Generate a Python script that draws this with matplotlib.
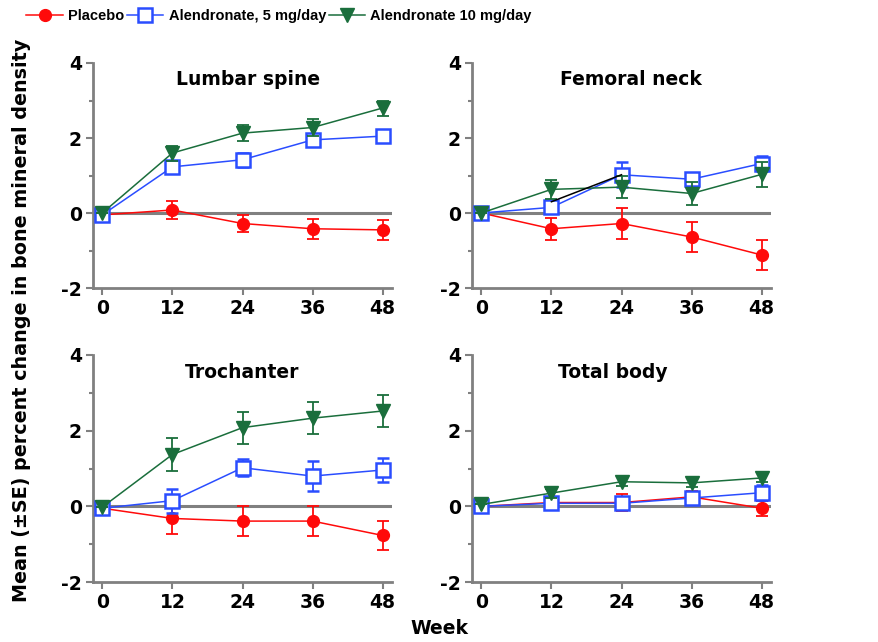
import matplotlib.pyplot as plt
from matplotlib.lines import Line2D

weeks = [0, 12, 24, 36, 48]
panels = ["Lumbar spine", "Femoral neck", "Trochanter", "Total body"]
series = ["Placebo", "Alendronate, 5 mg/day", "Alendronate 10 mg/day"]

# mean percent change per panel (placebo, 5 mg, 10 mg)
placebo = [
    [-0.05, 0.08, -0.28, -0.42, -0.45],
    [0.0, -0.42, -0.28, -0.64, -1.12],
    [-0.05, -0.32, -0.39, -0.39, -0.77],
    [0.0, 0.1, 0.1, 0.25, -0.05],
]
alen5 = [
    [-0.05, 1.23, 1.42, 1.95, 2.05],
    [0.0, 0.15, 1.02, 0.9, 1.32],
    [-0.05, 0.15, 1.02, 0.8, 0.96],
    [0.0, 0.08, 0.08, 0.22, 0.36],
]
alen10 = [
    [0.0, 1.6, 2.13, 2.28, 2.8],
    [0.0, 0.63, 0.69, 0.52, 1.03],
    [-0.02, 1.37, 2.08, 2.33, 2.52],
    [0.05, 0.35, 0.65, 0.62, 0.75],
]
placebo_se = [
    [0.0, 0.25, 0.22, 0.27, 0.27],
    [0.0, 0.3, 0.42, 0.4, 0.4],
    [0.0, 0.4, 0.4, 0.4, 0.38],
    [0.0, 0.15, 0.22, 0.15, 0.2],
]
alen5_se = [
    [0.0, 0.15, 0.18, 0.15, 0.15],
    [0.0, 0.12, 0.33, 0.15, 0.2],
    [0.0, 0.32, 0.22, 0.4, 0.33],
    [0.0, 0.15, 0.15, 0.15, 0.2],
]
alen10_se = [
    [0.0, 0.2, 0.22, 0.22, 0.2],
    [0.0, 0.25, 0.3, 0.3, 0.33],
    [0.0, 0.43, 0.42, 0.42, 0.42],
    [0.0, 0.12, 0.12, 0.12, 0.12],
]

red = "#ff0a0a"
blue = "#2a4dff"
green = "#1a6e3c"
gray = "#808080"

plt.rcParams['font.family'] = ['DejaVu Sans']
plt.rcParams['font.weight'] = 'bold'
plt.rcParams['axes.unicode_minus'] = False

fig = plt.figure(figsize=(8.79, 6.42), dpi=100)

pos = [
    [93 / 879, 1 - 288 / 642, 299 / 879, 225 / 642],
    [472 / 879, 1 - 288 / 642, 299 / 879, 225 / 642],
    [93 / 879, 1 - 582 / 642, 299 / 879, 227 / 642],
    [472 / 879, 1 - 582 / 642, 299 / 879, 227 / 642],
]
title_x = [0.52, 0.53, 0.50, 0.47]

for i, name in enumerate(panels):
    ax = fig.add_axes(pos[i])
    ax.set_xlim(-1.6, 49.6)
    ax.set_ylim(-2, 4)
    ax.axhline(0, color=gray, lw=2.2, zorder=1)

    ax.errorbar(weeks, placebo[i], yerr=placebo_se[i], color=red, lw=1.1,
                marker='o', ms=8.5, mfc=red, mec=red, capsize=4, elinewidth=1.3,
                capthick=1.3, zorder=3)
    ax.errorbar(weeks, alen5[i], yerr=alen5_se[i], color=blue, lw=1.1,
                marker='s', ms=9.5, mfc='white', mec=blue, mew=1.8, capsize=4,
                elinewidth=1.3, capthick=1.3, zorder=4)
    ax.errorbar(weeks, alen10[i], yerr=alen10_se[i], color=green, lw=1.1,
                marker='v', ms=10, mfc=green, mec=green, capsize=4, elinewidth=1.3,
                capthick=1.3, zorder=5)
    if name == "Femoral neck":
        # the 12 -> 24 week segment of the 5 mg line is drawn in black
        ax.plot(weeks[1:3], [0.3, alen5[i][2]], color='black', lw=1.1, zorder=6)

    ax.text(title_x[i], 0.925, name, transform=ax.transAxes, ha='center',
            va='center', fontsize=13.5, fontweight='bold')

    for s in ['top', 'right']:
        ax.spines[s].set_visible(False)
    for s in ['left', 'bottom']:
        ax.spines[s].set_color(gray)
        ax.spines[s].set_linewidth(2)
    ax.set_yticks([-2, 0, 2, 4])
    ax.set_yticks([-1, 1, 3], minor=True)
    ax.set_xticks(weeks)
    ax.tick_params(axis='both', which='major', color=gray, width=1.5, length=5,
                   labelsize=13.5, pad=3)
    ax.tick_params(axis='y', which='minor', color=gray, width=1.5, length=3)
    for lab in ax.get_xticklabels() + ax.get_yticklabels():
        lab.set_fontweight('bold')

fig.text(22 / 879, 1 - 320 / 642, "Mean (\u00b1SE) percent change in bone mineral density",
         rotation=90, ha='center', va='center', fontsize=13.8, fontweight='bold')
fig.text(439 / 879, 1 - 628 / 642, "Week", ha='center', va='center',
         fontsize=13.5, fontweight='bold')

handles = [
    Line2D([], [], color=red, lw=1.1, marker='o', ms=8.5, mfc=red, mec=red),
    Line2D([], [], color=blue, lw=1.1, marker='s', ms=9.5, mfc='white', mec=blue, mew=1.8),
    Line2D([], [], color=green, lw=1.1, marker='v', ms=10, mfc=green, mec=green),
]
fig.legend(handles, series, loc='upper left', bbox_to_anchor=(0.015, 1.006), ncol=3,
           frameon=False, handlelength=2.5, handletextpad=0.35, columnspacing=0.2,
           prop={'family': 'Liberation Sans', 'weight': 'bold', 'size': 10.5})

fig.savefig("out.png", dpi=100)
